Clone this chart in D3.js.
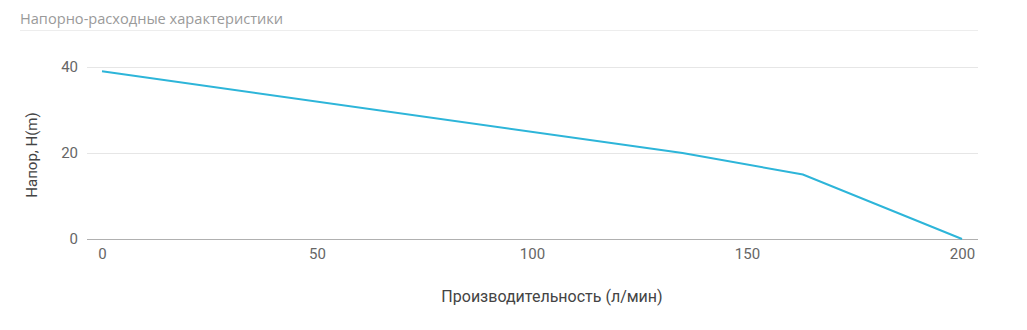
<!DOCTYPE html>
<html>
<head>
<meta charset="utf-8">
<script src="https://cdn.jsdelivr.net/npm/d3@7"></script>
<style>
  body { margin: 0; background: #fff; }
  svg { display: block; }
</style>
</head>
<body>
<div id="chart"></div>
<script>
// flow (л/мин) vs head (m)
var flow = [0, 135, 163, 200];
var head = [39, 20, 15, 0];
var xTicks = [0, 50, 100, 150, 200];
var yTicks = [0, 20, 40];

var w = 1027;
var h = 330;

var xscale = d3.scaleLinear().domain([0, 200]).range([102, 962]);
var yscale = d3.scaleLinear().domain([0, 40]).range([239, 67]);

var svg = d3.select('#chart')
            .append('svg')
            .attr('width', w)
            .attr('height', h);

// title + separator
svg.append('text')
    .attr('x', 20)
    .attr('y', 24)
    .style('font-family', '"Open Sans", sans-serif')
    .style('font-size', '14.6px')
    .style('fill', '#9a9a9a')
    .text('Напорно-расходные характеристики');

svg.append('line')
    .attr('x1', 20).attr('x2', 978)
    .attr('y1', 30.5).attr('y2', 30.5)
    .style('stroke', '#ededed');

// grid
svg.selectAll('.grid')
    .data(yTicks.filter(function(d) { return d > 0; }))
    .enter()
    .append('line')
    .attr('class', 'grid')
    .attr('x1', 87).attr('x2', 978)
    .attr('y1', function(d) { return Math.round(yscale(d)) + 0.5; })
    .attr('y2', function(d) { return Math.round(yscale(d)) + 0.5; })
    .style('stroke', '#e6e6e6');

// baseline
svg.append('line')
    .attr('x1', 87).attr('x2', 978)
    .attr('y1', Math.round(yscale(0)) + 0.5).attr('y2', Math.round(yscale(0)) + 0.5)
    .style('stroke', '#b0b0b0');

var yaxis = d3.axisLeft(yscale).tickValues(yTicks).tickSize(0).tickPadding(0);
svg.append('g')
    .attr('transform', 'translate(78,0)')
    .call(yaxis)
    .call(function(g) { g.select('.domain').remove(); })
    .selectAll('text')
    .style('font-family', 'Roboto, sans-serif')
    .style('font-size', '15px')
    .style('fill', '#666');

var xaxis = d3.axisBottom(xscale).tickValues(xTicks).tickSize(0).tickPadding(0);
svg.append('g')
    .attr('transform', 'translate(0,' + 248 + ')')
    .call(xaxis)
    .call(function(g) { g.select('.domain').remove(); })
    .selectAll('text')
    .style('font-family', 'Roboto, sans-serif')
    .style('font-size', '15px')
    .style('fill', '#666');

// axis titles
svg.append('text')
    .attr('x', 552)
    .attr('y', 302)
    .attr('text-anchor', 'middle')
    .style('font-family', 'Roboto, sans-serif')
    .style('font-size', '16px')
    .style('fill', '#444')
    .text('Производительность (л/мин)');

svg.append('text')
    .attr('transform', 'translate(37,155) rotate(-90)')
    .attr('text-anchor', 'middle')
    .style('font-family', 'Roboto, sans-serif')
    .style('font-size', '15px')
    .style('fill', '#444')
    .text('Напор, H(m)');

// curve
var pts = flow.map(function(f, i) { return [f, head[i]]; });
var line = d3.line()
    .x(function(d) { return xscale(d[0]); })
    .y(function(d) { return yscale(d[1]); });

svg.append('path')
    .datum(pts)
    .attr('d', line)
    .style('fill', 'none')
    .style('stroke', '#2db5d9')
    .style('stroke-width', 2);
</script>
</body>
</html>
